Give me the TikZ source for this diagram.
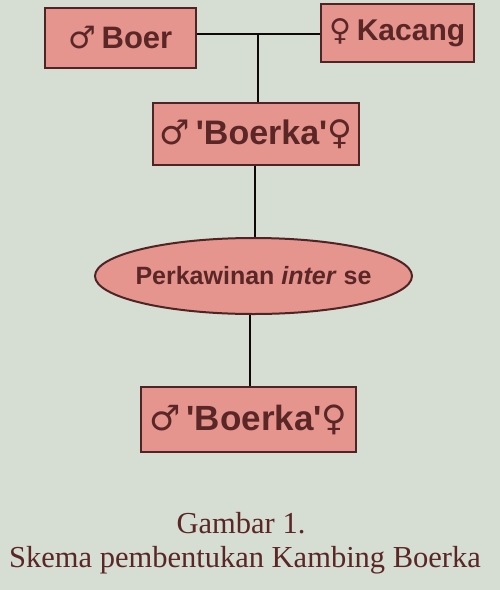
\documentclass[tikz,border=0pt]{standalone}
\usepackage{fontspec}
\setmainfont{Liberation Serif}
\newfontfamily\sansf{Liberation Sans}
\newfontfamily\symfont{DejaVu Sans}
\usetikzlibrary{shapes.geometric}
\definecolor{bgc}{HTML}{D6DDD2}
\definecolor{boxfill}{HTML}{E5958E}
\definecolor{boxline}{HTML}{4E2424}
\definecolor{txt}{HTML}{5A2626}
\tikzset{
  pbox/.style={draw=boxline, line width=2pt, fill=boxfill, text=txt, inner sep=0pt},
  oval/.style={ellipse, draw=boxline, line width=2pt, fill=boxfill, text=txt, inner ysep=0pt, inner xsep=-6pt, font=\sansf\bfseries\fontsize{25}{28}\selectfont},
  link/.style={draw=black!80!boxline, line width=2.6pt},
  captxt/.style={text=txt, font=\fontsize{30.5}{34}\selectfont, inner sep=0pt}
}
\newcommand{\msym}{{\symfont\mdseries ♂}}
\newcommand{\fsym}{{\symfont\mdseries ♀}}
\begin{document}
\begin{tikzpicture}[x=1pt,y=-1pt]
\fill[bgc] (0,0) rectangle (500,590);
\useasboundingbox (0,0) rectangle (500,590);
\node[pbox, minimum width=151pt, minimum height=60pt, font=\sansf\bfseries\fontsize{31}{34}\selectfont] (boer) at (120.5,38) {\msym\,Boer};
\node[pbox, minimum width=153pt, minimum height=58pt, font=\sansf\bfseries\fontsize{30}{34}\selectfont] (kacang) at (397.5,33) {\fsym\,Kacang};
\node[pbox, minimum width=206pt, minimum height=62pt, font=\sansf\bfseries\fontsize{34}{38}\selectfont] (bk1) at (256,134) {\msym\,'Boerka'\fsym};
\node[oval, minimum width=317pt, minimum height=76pt] (perk) at (253.5,276) {Perkawinan \textit{inter} se};
\node[pbox, minimum width=215pt, minimum height=65pt, font=\sansf\bfseries\fontsize{35}{38}\selectfont] (bk2) at (248.5,419.5) {\msym\,'Boerka'\fsym};
\coordinate (j) at (258,34);
\draw[link] (boer.east |- j) -- (kacang.west |- j);
\draw[link] (j) -- (j |- bk1.north);
\draw[link] (bk1.south -| 255,0) -- (perk.north -| 255,0);
\draw[link] (perk.south -| 250,0) -- (bk2.north -| 250,0);
\node[captxt] (c1) at (241,523) {Gambar 1.};
\node[captxt] (c2) at (245,560) {Skema pembentukan Kambing Boerka};
\end{tikzpicture}
\end{document}
